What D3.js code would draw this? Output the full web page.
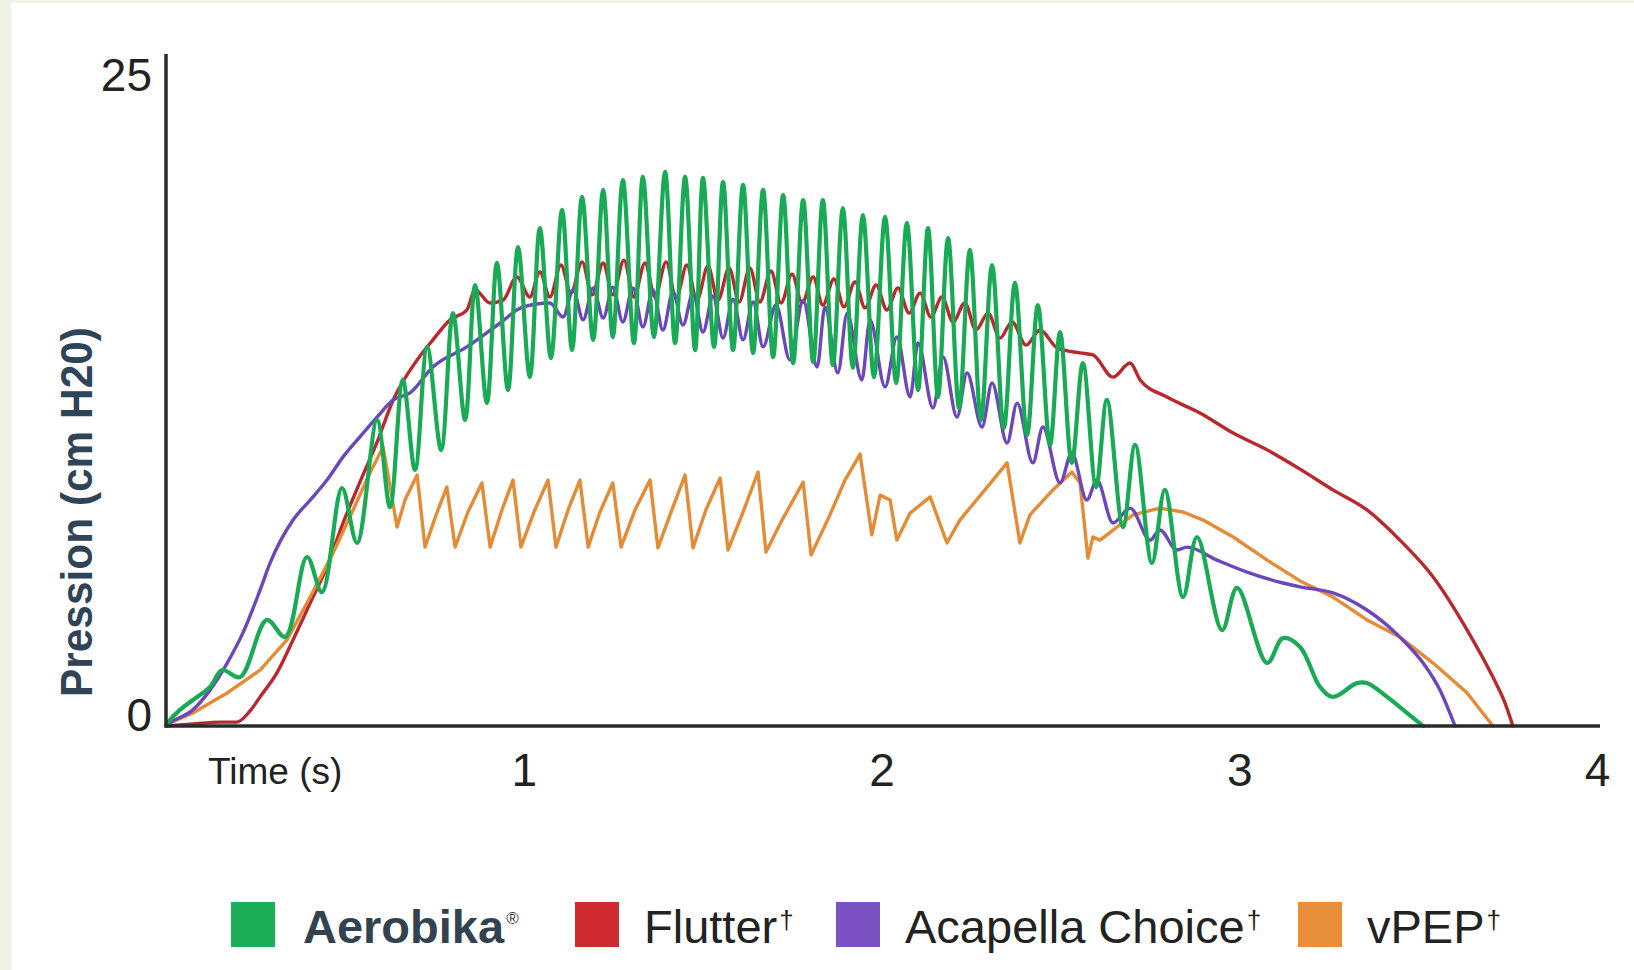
<!doctype html>
<html lang="fr">
<head>
  <meta charset="utf-8">
  <script src="https://cdn.jsdelivr.net/npm/d3@7"></script>
  <style>
    body { margin: 0; background: #eef4e5; }
    svg { display: block; }
    text { font-family: "Liberation Sans", Arial, Helvetica, sans-serif; }
  </style>
</head>
<body>
<svg id="chart" width="1634" height="970"></svg>

<script type="text/javascript">
// time (s), pressure (cm H2O)
var aerobika = [[0,0],[0.011,0.23],[0.039,0.62],[0.075,1.0],[0.123,1.5],[0.157,2.15],[0.207,1.88],[0.282,4.08],[0.333,3.42],[0.394,6.5],[0.436,5.15],[0.492,9.15],[0.534,7.04],[0.590,11.77],[0.626,8.42],[0.662,13.31],[0.696,9.85],[0.730,14.58],[0.769,10.62],[0.802,15.88],[0.836,11.77],[0.864,16.96],[0.897,12.42],[0.925,17.81],[0.956,12.92],[0.984,18.42],[1.017,13.42],[1.045,19.15],[1.076,14.15],[1.107,19.85],[1.135,14.46],[1.163,20.35],[1.194,14.85],[1.222,20.62],[1.249,14.96],[1.277,21.0],[1.308,14.73],[1.333,21.12],[1.364,14.96],[1.395,21.31],[1.423,14.73],[1.451,21.12],[1.479,14.46],[1.501,21.08],[1.532,14.58],[1.557,20.92],[1.585,14.46],[1.613,20.81],[1.641,14.35],[1.669,20.62],[1.697,14.19],[1.725,20.42],[1.753,13.96],[1.781,20.23],[1.809,14.0],[1.836,20.23],[1.864,13.88],[1.892,19.92],[1.920,13.77],[1.948,19.65],[1.979,13.42],[2.010,19.58],[2.041,13.19],[2.071,19.35],[2.102,12.92],[2.130,19.15],[2.158,12.65],[2.186,18.77],[2.217,12.23],[2.247,18.31],[2.278,11.77],[2.309,17.73],[2.342,11.46],[2.373,17.04],[2.407,11.19],[2.437,16.19],[2.471,10.81],[2.499,15.15],[2.532,10.12],[2.563,13.96],[2.600,9.19],[2.630,12.54],[2.675,7.65],[2.709,10.81],[2.756,6.27],[2.792,9.08],[2.843,4.96],[2.882,7.27],[2.952,3.69],[2.994,5.31],[3.078,2.42],[3.122,3.38],[3.170,3.04],[3.226,1.5],[3.262,1.12],[3.329,1.65],[3.357,1.65],[3.413,1.12],[3.449,0.73],[3.514,0]];

var flutter = [[0,0],[0.075,0.08],[0.151,0.15],[0.198,0.15],[0.235,0.58],[0.263,1.12],[0.310,2.04],[0.355,3.31],[0.403,4.73],[0.450,6.12],[0.495,7.81],[0.542,9.38],[0.590,10.92],[0.635,12.54],[0.702,14.08],[0.746,14.85],[0.794,15.62],[0.841,16.0],[0.864,16.77],[0.906,16.27],[0.942,16.38],[0.981,17.27],[1.017,16.5],[1.045,17.46],[1.073,16.5],[1.104,17.73],[1.132,16.65],[1.163,17.85],[1.191,16.58],[1.222,17.81],[1.249,16.58],[1.280,17.92],[1.308,16.5],[1.339,17.81],[1.367,16.5],[1.398,17.85],[1.426,16.46],[1.456,17.73],[1.484,16.38],[1.515,17.69],[1.543,16.38],[1.574,17.62],[1.602,16.31],[1.632,17.62],[1.660,16.31],[1.691,17.5],[1.719,16.27],[1.750,17.38],[1.778,16.27],[1.809,17.27],[1.836,16.19],[1.867,17.19],[1.895,16.12],[1.926,17.08],[1.954,16.08],[1.985,16.96],[2.015,16.0],[2.046,16.85],[2.077,15.88],[2.108,16.65],[2.138,15.73],[2.169,16.5],[2.200,15.54],[2.233,16.27],[2.264,15.23],[2.298,15.88],[2.331,14.92],[2.365,15.54],[2.404,14.65],[2.443,15.23],[2.491,14.54],[2.555,14.35],[2.591,14.27],[2.647,13.42],[2.695,13.96],[2.723,13.31],[2.798,12.65],[2.890,12.04],[2.983,11.27],[3.078,10.62],[3.170,9.88],[3.262,9.08],[3.357,8.31],[3.449,7.15],[3.542,5.73],[3.637,3.69],[3.709,1.88],[3.743,0.88],[3.765,0]];

var acapella = [[0,0],[0.011,0.12],[0.075,0.62],[0.123,1.38],[0.171,2.42],[0.215,3.58],[0.263,5.23],[0.291,6.27],[0.355,7.92],[0.403,8.69],[0.450,9.46],[0.495,10.35],[0.542,11.12],[0.590,11.88],[0.635,12.54],[0.682,12.81],[0.746,13.81],[0.841,14.58],[0.934,15.5],[0.998,16.12],[1.073,16.27],[1.110,15.73],[1.138,16.77],[1.166,15.62],[1.194,16.85],[1.222,15.69],[1.249,16.88],[1.277,15.54],[1.305,16.85],[1.333,15.35],[1.361,16.77],[1.389,15.23],[1.417,16.69],[1.445,15.42],[1.473,16.65],[1.501,15.15],[1.529,16.54],[1.557,14.92],[1.585,16.42],[1.613,14.85],[1.641,16.31],[1.669,14.58],[1.705,16.19],[1.744,14.08],[1.781,16.38],[1.820,13.81],[1.842,16.12],[1.878,13.58],[1.904,15.88],[1.945,13.31],[1.968,15.62],[2.010,13.04],[2.043,14.96],[2.080,12.65],[2.102,14.73],[2.144,12.23],[2.172,14.19],[2.211,11.88],[2.239,13.58],[2.281,11.5],[2.309,13.19],[2.351,10.88],[2.379,12.42],[2.423,10.12],[2.451,11.5],[2.499,9.35],[2.532,10.5],[2.574,8.69],[2.602,9.46],[2.647,7.81],[2.695,8.38],[2.751,7.15],[2.778,7.54],[2.826,6.77],[2.854,6.88],[2.938,6.38],[3.030,5.88],[3.122,5.5],[3.170,5.35],[3.262,5.12],[3.357,4.46],[3.449,3.42],[3.514,2.42],[3.561,1.38],[3.603,0]];

var vpep = [[0,0],[0.011,0.12],[0.075,0.5],[0.171,1.27],[0.263,2.15],[0.338,3.31],[0.403,4.96],[0.467,6.65],[0.523,8.31],[0.570,9.73],[0.607,10.73],[0.646,7.65],[0.668,8.69],[0.702,9.65],[0.724,6.88],[0.755,8.12],[0.785,9.19],[0.808,6.88],[0.844,8.23],[0.883,9.35],[0.906,6.88],[0.939,8.31],[0.970,9.46],[0.992,6.88],[1.031,8.31],[1.068,9.46],[1.090,6.88],[1.124,8.31],[1.157,9.46],[1.180,6.88],[1.213,8.23],[1.249,9.35],[1.272,6.88],[1.311,8.31],[1.353,9.46],[1.375,6.85],[1.414,8.31],[1.451,9.65],[1.473,6.85],[1.509,8.31],[1.549,9.54],[1.571,6.77],[1.613,8.23],[1.655,9.77],[1.677,6.69],[1.722,7.92],[1.781,9.38],[1.803,6.58],[1.856,8.12],[1.898,9.46],[1.940,10.46],[1.973,7.35],[1.996,8.88],[2.024,8.69],[2.043,7.15],[2.080,8.19],[2.136,8.81],[2.183,7.04],[2.219,7.92],[2.289,9.08],[2.351,10.12],[2.387,7.04],[2.415,8.12],[2.479,9.08],[2.532,9.77],[2.555,9.35],[2.577,6.46],[2.591,7.27],[2.611,7.15],[2.658,7.65],[2.703,8.12],[2.778,8.38],[2.843,8.23],[2.899,7.92],[2.983,7.27],[3.078,6.38],[3.170,5.58],[3.262,4.96],[3.357,4.08],[3.449,3.42],[3.542,2.42],[3.637,1.27],[3.709,0]];

var seriesNames = ["Aerobika", "Flutter", "Acapella Choice", "vPEP"];
var seriesMarks = ["\u00AE", "\u2020", "\u2020", "\u2020"];
var xTicks = [1, 2, 3, 4];
var yTicks = [0, 25];
var xTitle = "Time (s)";
var yTitle = "Pression (cm H20)";

var lineColors = ["#19aa55", "#b9282d", "#6c46ba", "#e48c35"];
var keyColors = ["#1cae56", "#cf2b31", "#7c52c3", "#e98e39"];

var svg = d3.select("#chart");

// white sheet, light green edge left and top
svg.append("rect")
    .attr("x", 11).attr("y", 3)
    .attr("width", 1634 - 11).attr("height", 970 - 3)
    .attr("fill", "#ffffff");

var x = d3.scaleLinear().domain([0, 4]).range([166, 1597]);
var y = d3.scaleLinear().domain([0, 25]).range([726, 76]);

function lineWith(curve) {
  return d3.line()
      .x(function(d) { return x(d[0]); })
      .y(function(d) { return y(d[1]); })
      .curve(curve);
}

// drawn back to front
var traces = [
  {data: flutter, color: lineColors[1], width: 3.4, gen: lineWith(d3.curveMonotoneX)},
  {data: vpep, color: lineColors[3], width: 3.4, gen: lineWith(d3.curveLinear)},
  {data: acapella, color: lineColors[2], width: 3.4, gen: lineWith(d3.curveMonotoneX)},
  {data: aerobika, color: lineColors[0], width: 4.2, gen: lineWith(d3.curveCatmullRom.alpha(0.5))}
];

svg.selectAll(".trace")
    .data(traces)
  .enter().append("path")
    .attr("class", "trace")
    .attr("d", function(d) { return d.gen(d.data); })
    .attr("fill", "none")
    .attr("stroke", function(d) { return d.color; })
    .attr("stroke-width", function(d) { return d.width; })
    .attr("stroke-linejoin", "round")
    .attr("stroke-linecap", "round");

// axis lines
svg.append("line")
    .attr("x1", x(0)).attr("x2", x(0))
    .attr("y1", y(0) + 1.5).attr("y2", y(25) - 22)
    .attr("stroke", "#2a2a2a").attr("stroke-width", 3.5);
svg.append("line")
    .attr("x1", x(0)).attr("x2", x(4) + 3)
    .attr("y1", y(0)).attr("y2", y(0))
    .attr("stroke", "#2a2a2a").attr("stroke-width", 3.5);

var gx = svg.append("g")
    .attr("transform", "translate(0," + y(0) + ")")
    .call(d3.axisBottom(x).tickValues(xTicks).tickSize(0).tickPadding(27).tickFormat(d3.format("d")));
gx.select(".domain").remove();
gx.selectAll("text")
    .attr("font-size", 46)
    .attr("font-family", "Liberation Sans, Arial, sans-serif")
    .attr("fill", "#222");

var gy = svg.append("g")
    .attr("transform", "translate(" + x(0) + ",0)")
    .call(d3.axisLeft(y).tickValues(yTicks).tickSize(0).tickPadding(14).tickFormat(d3.format("d")));
gy.select(".domain").remove();
gy.selectAll("text")
    .attr("font-size", 46)
    .attr("font-family", "Liberation Sans, Arial, sans-serif")
    .attr("fill", "#222");
gy.selectAll("text").filter(function(d) { return d === 0; }).attr("dy", "0.1em");

svg.append("text")
    .attr("x", 208).attr("y", 784)
    .attr("font-size", 37)
    .attr("fill", "#222")
    .text(xTitle);

svg.append("text")
    .attr("transform", "translate(92,512) rotate(-90)")
    .attr("text-anchor", "middle")
    .attr("font-size", 44)
    .attr("font-weight", "bold")
    .attr("fill", "#2f4457")
    .attr("textLength", 370)
    .attr("lengthAdjust", "spacingAndGlyphs")
    .text(yTitle);

// legend
var keyX = [231, 575, 836, 1298];
var key = svg.selectAll(".key")
    .data(seriesNames)
  .enter().append("g")
    .attr("class", "key")
    .attr("transform", function(d, i) { return "translate(" + keyX[i] + ",902)"; });

key.append("rect")
    .attr("width", 44).attr("height", 45)
    .attr("fill", function(d, i) { return keyColors[i]; });

var keyText = key.append("text")
    .attr("x", function(d, i) { return i === 0 ? 72 : 69; })
    .attr("y", 41)
    .attr("font-size", 47)
    .attr("font-weight", function(d, i) { return i === 0 ? "bold" : "normal"; })
    .attr("fill", function(d, i) { return i === 0 ? "#33424f" : "#222"; });

keyText.append("tspan").text(function(d) { return d; });
keyText.append("tspan")
    .attr("dx", 2)
    .attr("font-weight", "normal")
    .attr("font-size", function(d, i) { return seriesMarks[i] === "\u00AE" ? 17 : 26; })
    .attr("dy", function(d, i) { return seriesMarks[i] === "\u00AE" ? -19 : -14; })
    .text(function(d, i) { return seriesMarks[i]; });
</script>
</body>
</html>
